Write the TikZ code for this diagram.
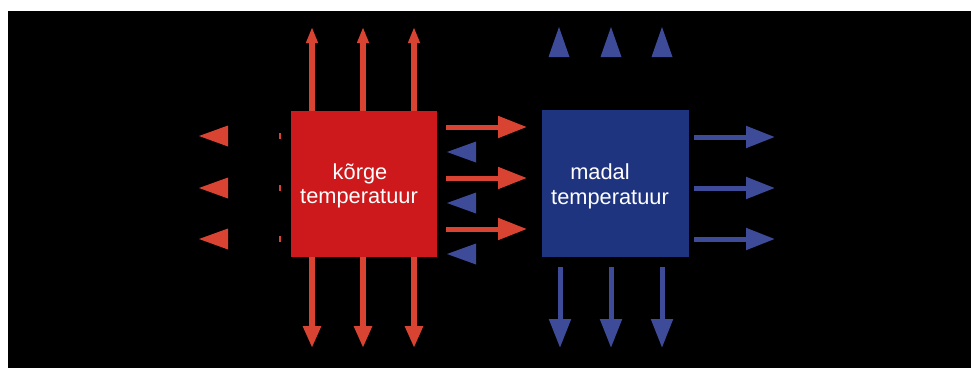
\documentclass[tikz,border=0pt]{standalone}
\usepackage{fontspec}
\setmainfont{Liberation Sans}
\usetikzlibrary{arrows.meta}
\definecolor{hotbox}{RGB}{205,25,27}
\definecolor{hotarrow}{RGB}{216,67,50}
\definecolor{coldbox}{RGB}{31,52,127}
\definecolor{coldarrow}{RGB}{61,75,152}
\tikzset{
  hotshaft/.style={draw=hotarrow,line width=6pt},
  coldshaft/.style={draw=coldarrow,line width=5pt},
  bigtipR/.style={-{Triangle[length=29pt,width=21pt]}},
  label/.style={text=white,font=\fontsize{21.8}{26}\selectfont,anchor=base,inner sep=0pt},
  hottri/.style={fill=hotarrow},
  coldtri/.style={fill=coldarrow},
}
\begin{document}
\begin{tikzpicture}[x=1pt,y=-1pt]
\useasboundingbox (0,0) rectangle (971,368);
\fill[white] (0,0) rectangle (971,368);
\fill[black] (8,11) rectangle (971,368);
% boxes
\node[fill=hotbox,minimum width=146pt,minimum height=146pt,inner sep=0pt,anchor=north west] (hot) at (291,111) {};
\node[fill=coldbox,minimum width=147pt,minimum height=147pt,inner sep=0pt,anchor=north west] (cold) at (542,110) {};
% texts
\node[label] (t1) at (360,179) {kõrge};
\node[label] (t2) at (359,203) {temperatuur};
\node[label] (t3) at (600,179) {madal};
\node[label] (t4) at (610,204) {temperatuur};
% red up arrows
\foreach \x/\n in {312/a,363/b,414/c}{
  \coordinate (hu\n) at (\x,27);
  \draw[hotshaft,-{Triangle[length=16pt,width=11pt]}] (hot.north -| hu\n) -- (hu\n);
}
% red down arrows
\foreach \x/\n in {312/a,363/b,414/c}{
  \coordinate (hd\n) at (\x,348);
  \draw[hotshaft,-{Triangle[length=22pt,width=17pt]}] (hot.south -| hd\n) -- (hd\n);
}
% red left heads and ticks
\foreach \y in {136,188,239}{
  \fill[hottri] (228,\y-10.5) -- (199,\y) -- (228,\y+10.5) -- cycle;
  \fill[hotarrow] (279,\y-3) rectangle (281,\y+3);
}
% red right arrows into cold box
\foreach \y/\n in {127/a,178/b,229/c}{
  \coordinate (hrs\n) at (446,\y);
  \coordinate (hre\n) at (527,\y);
  \draw[draw=hotarrow,line width=5pt,bigtipR,fill=hotarrow] (hrs\n) -- (hre\n);
}
% blue left heads
\foreach \y in {152,203,254}{
  \fill[coldtri] (476,\y-10.5) -- (447,\y) -- (476,\y+10.5) -- cycle;
}
% blue up heads
\foreach \x in {559,611,662}{
  \fill[coldtri] (\x-10.5,57) -- (\x,27) -- (\x+10.5,57) -- cycle;
}
% blue down arrows
\foreach \x/\n in {560/a,611/b,662/c}{
  \coordinate (cds\n) at (\x,267);
  \coordinate (cde\n) at (\x,348);
  \draw[coldshaft,bigtipR] (cds\n) -- (cde\n);
}
% blue right arrows
\foreach \y/\n in {137/a,188/b,239/c}{
  \coordinate (crs\n) at (694,\y);
  \coordinate (cre\n) at (775,\y);
  \draw[coldshaft,bigtipR] (crs\n) -- (cre\n);
}
\end{tikzpicture}
\end{document}
